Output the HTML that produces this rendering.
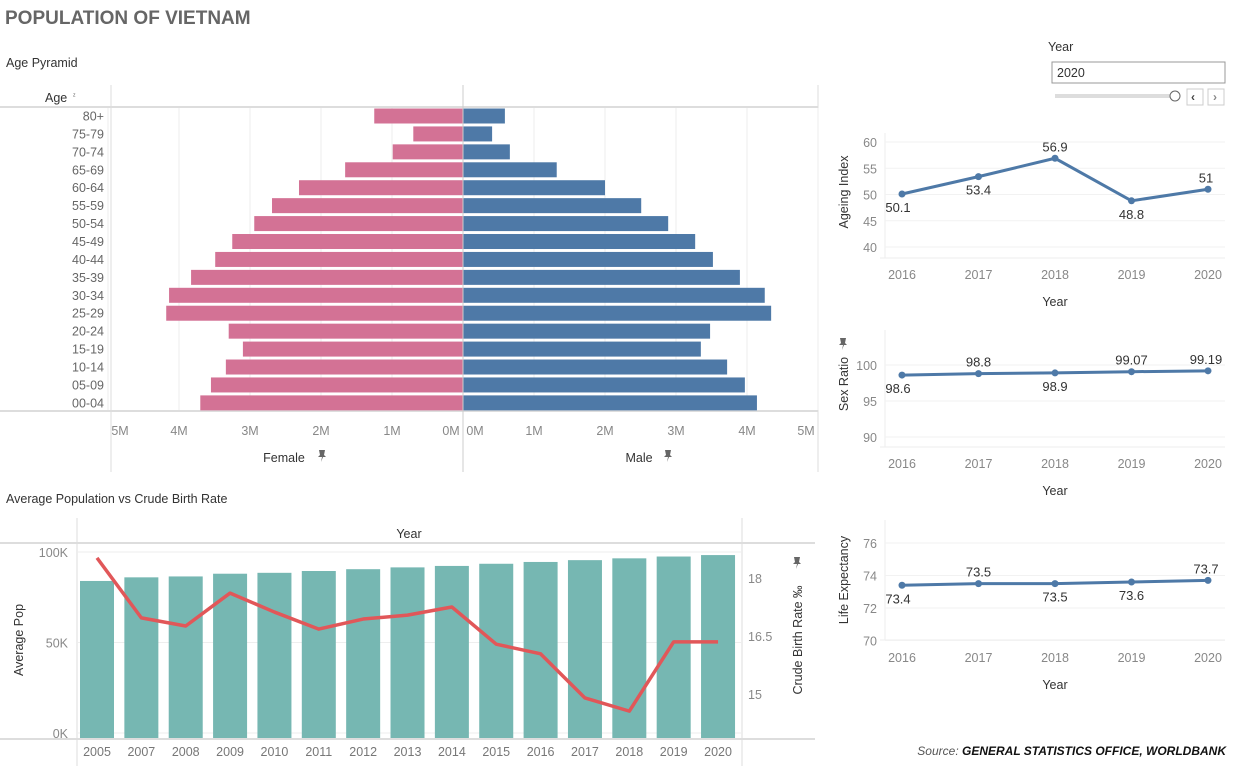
<!DOCTYPE html>
<html><head><meta charset="utf-8">
<style>
body{margin:0;width:1242px;height:766px;background:#fff;overflow:hidden;font-family:"Liberation Sans",sans-serif;}
svg text{font-family:"Liberation Sans",sans-serif;}
</style></head>
<body>
<svg id="s" width="1242" height="766" xmlns="http://www.w3.org/2000/svg">
<defs><g id="pin"><path d="M-3,-6 L3,-6 L2,-1 L4,1 L-4,1 L-2,-1 Z M0,1 L-1,6 L1,1 Z" fill="#666"/></g></defs>
<text x="5" y="24" font-size="19" font-weight="bold" fill="#666">POPULATION OF VIETNAM</text>
<text x="6" y="67" font-size="12.5" fill="#333">Age Pyramid</text>
<text x="6" y="503" font-size="12.5" fill="#333">Average Population vs Crude Birth Rate</text>
<g>
<text x="1048" y="51" font-size="12.5" fill="#333">Year</text>
<rect x="1052" y="62" width="173" height="21" fill="#fff" stroke="#999"/>
<text x="1057" y="77" font-size="12.5" fill="#333">2020</text>
<rect x="1055" y="94" width="120" height="4" fill="#ddd"/>
<circle cx="1175" cy="96" r="5" fill="#fff" stroke="#666"/>
<rect x="1187" y="89" width="16" height="16" fill="#fff" stroke="#ccc"/>
<text x="1191" y="101" font-size="12" font-weight="bold" fill="#444">‹</text>
<rect x="1208" y="89" width="16" height="16" fill="#fff" stroke="#ccc"/>
<text x="1213" y="101" font-size="12" font-weight="bold" fill="#888">›</text>
</g>
<g id="pyr"></g><g id="pop"></g><g id="ai"></g><g id="sr"></g><g id="le"></g>
<use href="#pin" x="322" y="456"/>
<use href="#pin" x="668" y="456"/>
<use href="#pin" x="797" y="563"/>
<use href="#pin" x="843" y="344"/>
<text x="1226" y="755" text-anchor="end" font-size="12" font-style="italic" fill="#555">Source: <tspan font-weight="bold" fill="#111">GENERAL STATISTICS OFFICE, WORLDBANK</tspan></text>
</svg>
<script>
const ages=["80+","75-79","70-74","65-69","60-64","55-59","50-54","45-49","40-44","35-39","30-34","25-29","20-24","15-19","10-14","05-09","00-04"];
const female=[1.25,0.70,0.99,1.66,2.31,2.69,2.94,3.25,3.49,3.83,4.14,4.18,3.30,3.10,3.34,3.55,3.70];
const male=[0.59,0.41,0.66,1.32,2.0,2.51,2.89,3.27,3.52,3.9,4.25,4.34,3.48,3.35,3.72,3.97,4.14];
const mTicks=[0,1,2,3,4,5];
const popYears=["2005","2007","2008","2009","2010","2011","2012","2013","2014","2015","2016","2017","2018","2019","2020"];
const avgPop=[84,86,86.5,88,88.5,89.5,90.5,91.5,92.3,93.5,94.5,95.5,96.5,97.5,98.3];
const birthRate=[18.52,16.97,16.76,17.61,17.12,16.68,16.94,17.04,17.25,16.29,16.04,14.9,14.56,16.35,16.35];
const popTicks=[0,50,100];
const brTicks=[15,16.5,18];
const smallYears=["2016","2017","2018","2019","2020"];
const ageing=[50.1,53.4,56.9,48.8,51];
const ageingLabels=["50.1","53.4","56.9","48.8","51"];
const ageingTicks=[40,45,50,55,60];
const sexRatio=[98.6,98.8,98.9,99.07,99.19];
const sexLabels=["98.6","98.8","98.9","99.07","99.19"];
const sexTicks=[90,95,100];
const lifeExp=[73.4,73.5,73.5,73.6,73.7];
const lifeLabels=["73.4","73.5","73.5","73.6","73.7"];
const lifeTicks=[70,72,74,76];

const NS="http://www.w3.org/2000/svg";
function mk(p,t,a,txt){const e=document.createElementNS(NS,t);for(const k in a)e.setAttribute(k,a[k]);if(txt!==undefined)e.textContent=txt;p.appendChild(e);return e;}

(function(){
const g=document.getElementById('pyr');
const cx=463,pm=71,y0=116,step=17.93,bh=15;
const xm=v=>cx+v*pm, xf=v=>cx-v*pm, yr=i=>y0+i*step;
mk(g,'line',{x1:0,y1:107,x2:818,y2:107,stroke:'#ddd','stroke-width':2});
mk(g,'line',{x1:0,y1:411,x2:818,y2:411,stroke:'#ddd','stroke-width':2});
mk(g,'line',{x1:111,y1:85,x2:111,y2:472,stroke:'#ddd'});
mk(g,'line',{x1:818,y1:85,x2:818,y2:472,stroke:'#ddd'});
let t=mk(g,'text',{x:45,y:102,'font-size':12.5,fill:'#333'},'Age');


let so=mk(g,'text',{x:73,y:98,'font-size':7,fill:'#555'},'ᶻ');


mTicks.forEach(v=>{
 if(v>0){[xm(v),xf(v)].forEach(x=>{mk(g,'line',{x1:x,y1:108,x2:x,y2:410,stroke:'#eee'});});}
 let a=mk(g,'text',{x:xm(v)+(v==0?12:v==5?-12:0),y:435,'font-size':12.5,fill:'#888','text-anchor':'middle'},v+'M');
 
 
 let b=mk(g,'text',{x:xf(v)-(v==0?12:v==5?-12:0),y:435,'font-size':12.5,fill:'#888','text-anchor':'middle'},v+'M');
 
 
});
ages.forEach((a,i)=>{
 const y=yr(i);
 let l=mk(g,'text',{x:104,y:y+4.5,'font-size':12.5,fill:'#666','text-anchor':'end'},a);
 
 
 let f=mk(g,'rect',{x:xf(female[i]),y:y-bh/2,width:female[i]*pm,height:bh,fill:'#d37295'});
 
 
 let m=mk(g,'rect',{x:cx,y:y-bh/2,width:male[i]*pm,height:bh,fill:'#4e79a7'});
 
 
});
mk(g,'line',{x1:cx,y1:85,x2:cx,y2:472,stroke:'#ccc'});
let fl=mk(g,'text',{x:284,y:462,'font-size':12.5,fill:'#333','text-anchor':'middle'},'Female');


let ml=mk(g,'text',{x:639,y:462,'font-size':12.5,fill:'#333','text-anchor':'middle'},'Male');


})();

(function(){
const g=document.getElementById('pop');
const x0=97,st=44.36,bw=34;
const xp=i=>x0+i*st, yp=v=>733-v*1.81, yb=v=>578-(v-18)*38.7;
mk(g,'line',{x1:77,y1:518,x2:77,y2:766,stroke:'#ddd'});
mk(g,'line',{x1:742,y1:518,x2:742,y2:766,stroke:'#ddd'});
mk(g,'line',{x1:0,y1:543,x2:815,y2:543,stroke:'#ddd','stroke-width':2});
mk(g,'line',{x1:0,y1:739,x2:815,y2:739,stroke:'#ddd','stroke-width':2});
let h=mk(g,'text',{x:409,y:538,'font-size':12.5,fill:'#333','text-anchor':'middle'},'Year');


popTicks.forEach(v=>{
 mk(g,'line',{x1:77,y1:yp(v),x2:742,y2:yp(v),stroke:'#eee'});
 let t=mk(g,'text',{x:68,y:yp(v)+5,'font-size':12.5,fill:'#888','text-anchor':'end'},v+'K');
 
 
});
brTicks.forEach(v=>{
 let t=mk(g,'text',{x:748,y:yb(v)+5,'font-size':12.5,fill:'#888'},String(v));
 
 
});
popYears.forEach((yv,i)=>{
 let b=mk(g,'rect',{x:xp(i)-bw/2,y:yp(avgPop[i]),width:bw,height:733-yp(avgPop[i])+5,fill:'#76b7b2'});
 
 
 let t=mk(g,'text',{x:xp(i),y:756,'font-size':12.5,fill:'#777','text-anchor':'middle'},yv);
 
 
});
let p=mk(g,'polyline',{points:birthRate.map((v,i)=>xp(i)+','+yb(v)).join(' '),fill:'none',stroke:'#e15759','stroke-width':3.5,'stroke-linejoin':'round'});


let a=mk(g,'text',{x:0,y:0,'font-size':12.5,fill:'#333','text-anchor':'middle',transform:'translate(23,640) rotate(-90)'},'Average Pop');


let r=mk(g,'text',{x:0,y:0,'font-size':12.5,fill:'#333','text-anchor':'middle',transform:'translate(802,640) rotate(-90)'},'Crude Birth Rate ‰');


})();

function small(id,vals,labs,ticks,ymap,top,bot,yearY,title,titleY,labelPos,nm){
const g=document.getElementById(id);
const xs=i=>902+i*76.5;
mk(g,'line',{x1:885,y1:top,x2:885,y2:bot,stroke:'#eee'});
mk(g,'line',{x1:880,y1:bot,x2:1225,y2:bot,stroke:'#eee'});
ticks.forEach(v=>{
 mk(g,'line',{x1:885,y1:ymap(v),x2:1225,y2:ymap(v),stroke:'#f2f2f2'});
 let t=mk(g,'text',{x:877,y:ymap(v)+5,'font-size':12.5,fill:'#888','text-anchor':'end'},String(v));
 
 
});
smallYears.forEach((y,i)=>{
 let t=mk(g,'text',{x:xs(i),y:yearY,'font-size':12.5,fill:'#888','text-anchor':'middle'},y);
 
 
});
let yt=mk(g,'text',{x:1055,y:yearY+27,'font-size':12.5,fill:'#333','text-anchor':'middle'},'Year');


let at=mk(g,'text',{x:0,y:0,'font-size':12.5,fill:'#333','text-anchor':'middle',transform:'translate(848,'+titleY+') rotate(-90)'},title);


let l=mk(g,'polyline',{points:vals.map((v,i)=>xs(i)+','+ymap(v)).join(' '),fill:'none',stroke:'#4e79a7','stroke-width':3});


vals.forEach((v,i)=>{
 let c=mk(g,'circle',{cx:xs(i),cy:ymap(v),r:3.5,fill:'#4e79a7'});
 
 
 const dy=labelPos[i]>0?18:-7;
 let t=mk(g,'text',{x:xs(i)+(i==4?-2:i==0?-4:0),y:ymap(v)+dy,'font-size':13,fill:'#333','text-anchor':'middle'},labs[i]);
 
 
});
}
small('ai',ageing,ageingLabels,ageingTicks,v=>142+(60-v)*5.25,133,258,279,'Ageing Index',192,[1,1,-1,1,-1],'ageing');
small('sr',sexRatio,sexLabels,sexTicks,v=>365+(100-v)*7.2,330,447,468,'Sex Ratio',384,[1,-1,1,-1,-1],'sex-ratio');
small('le',lifeExp,lifeLabels,lifeTicks,v=>543+(76-v)*16.25,520,640,662,'Life Expectancy',580,[1,-1,1,1,-1],'life-exp');
</script>
</body></html>
